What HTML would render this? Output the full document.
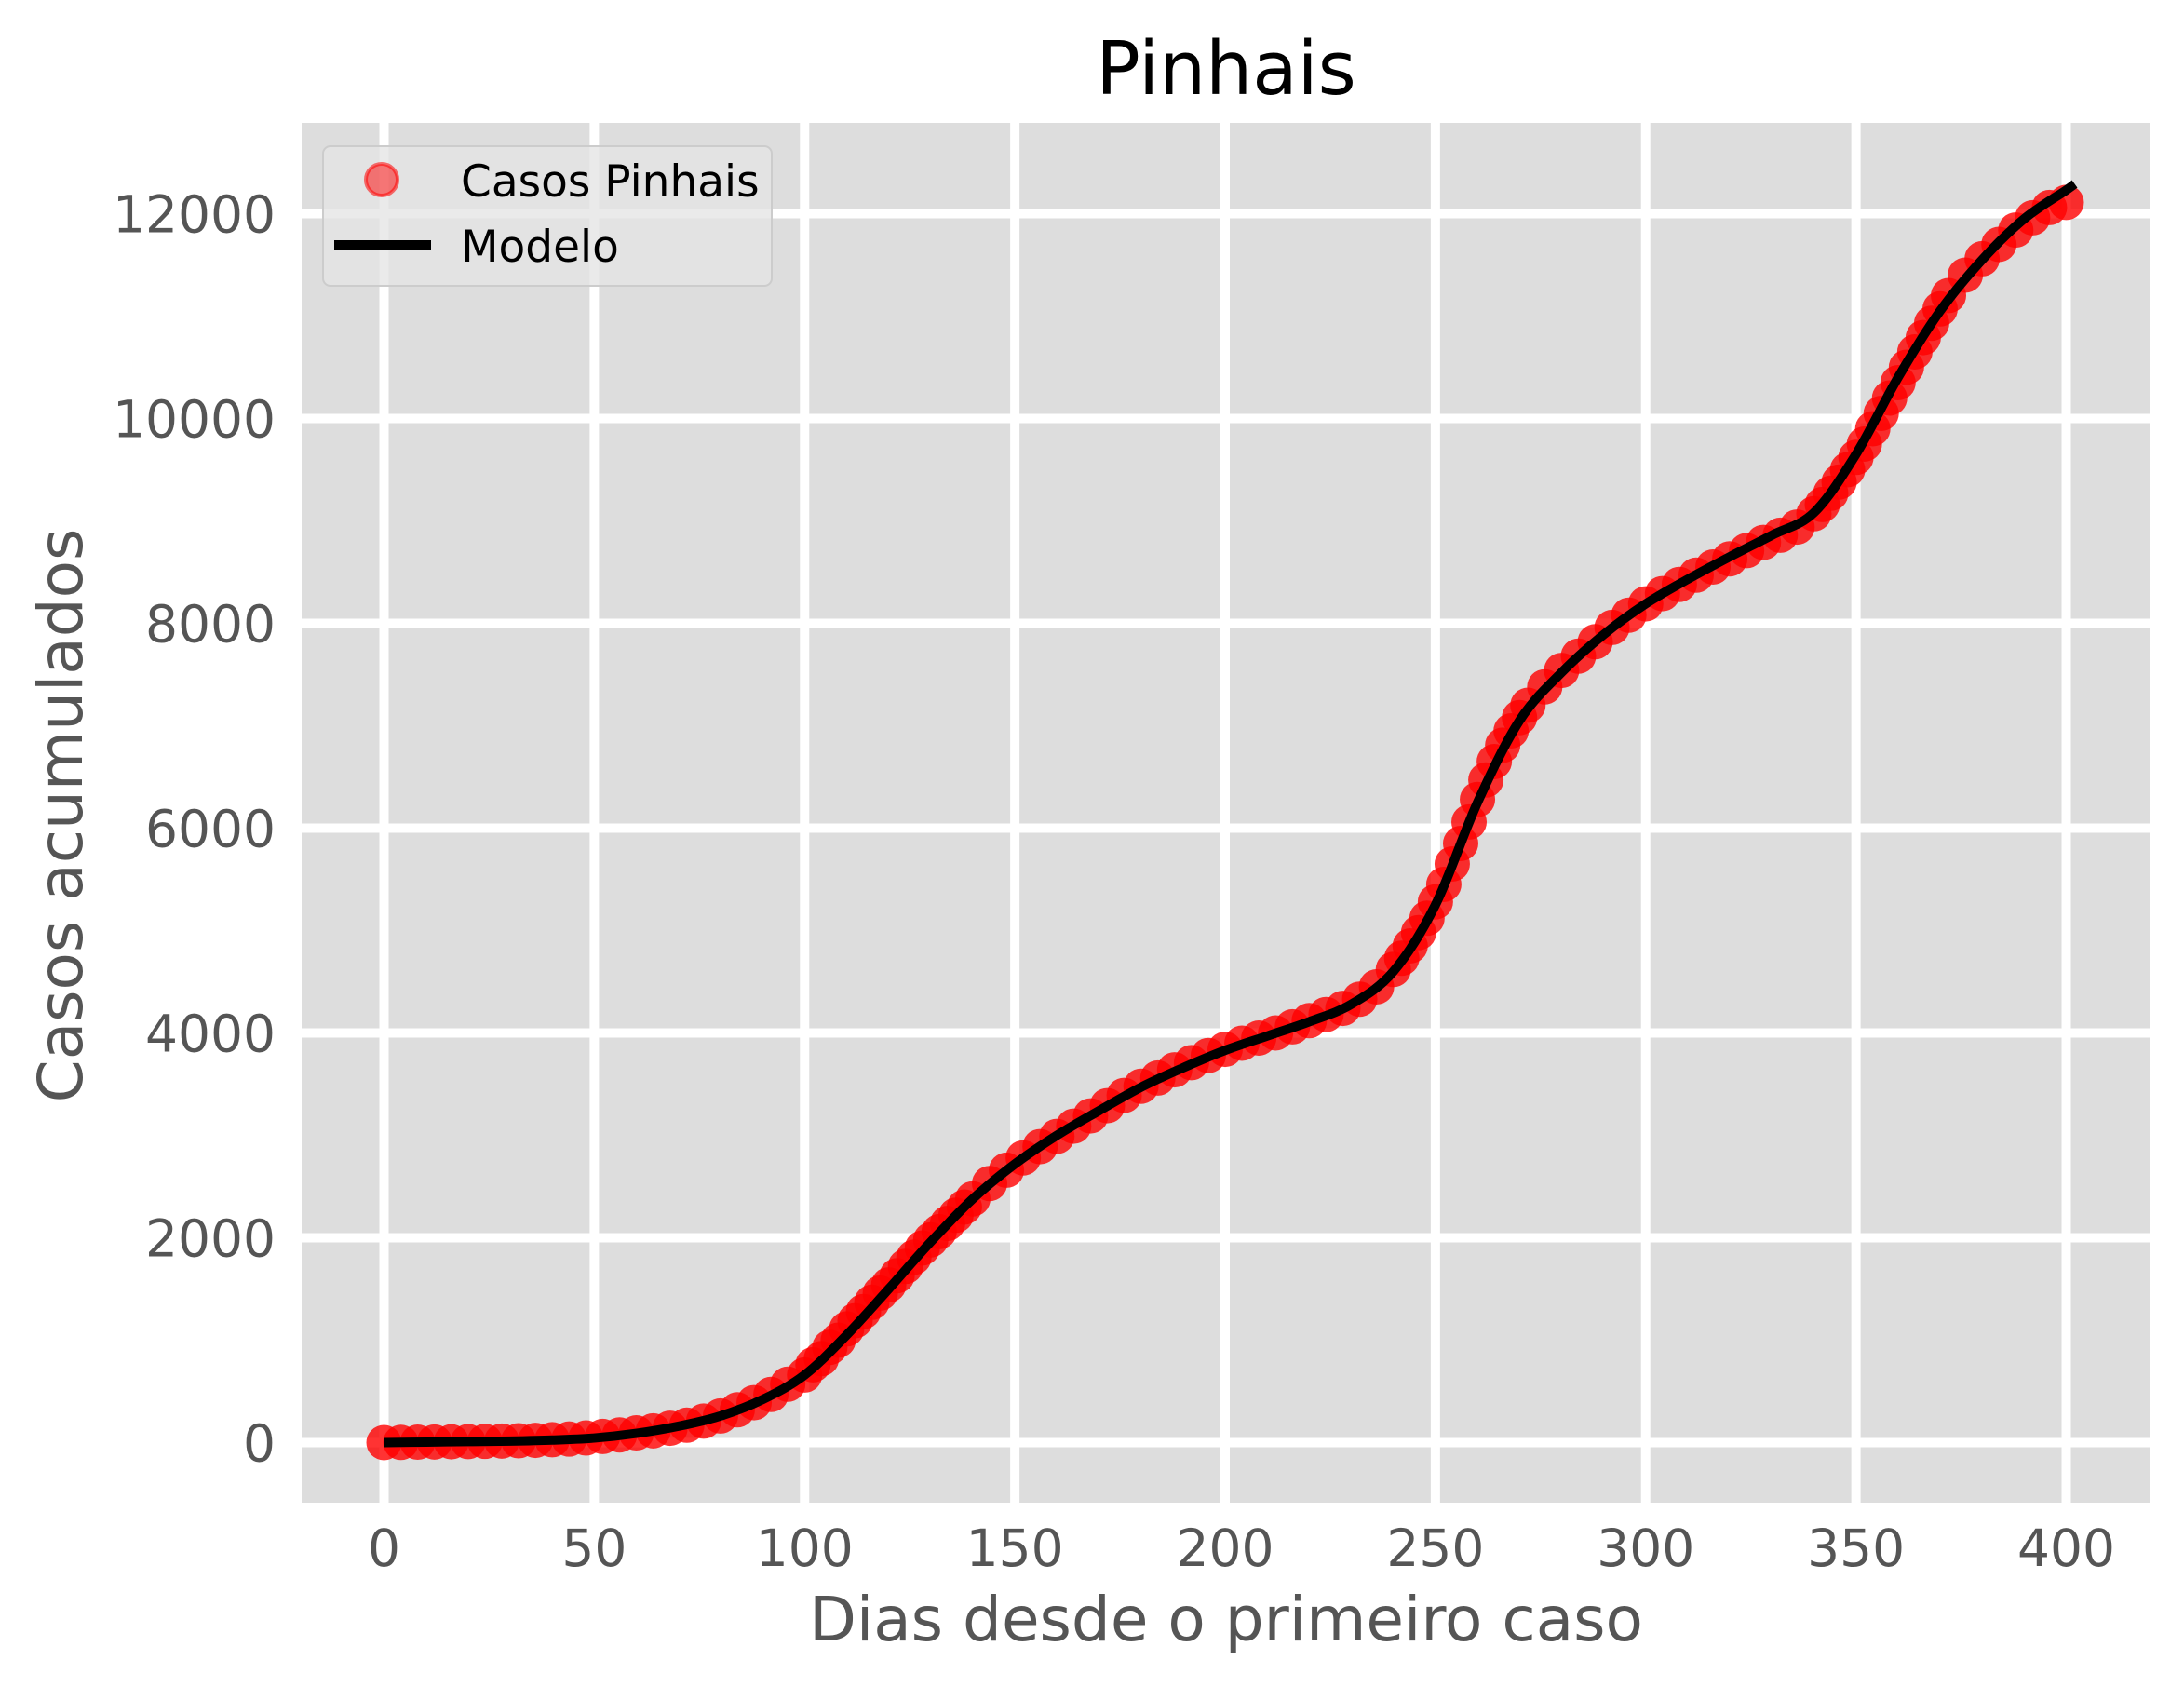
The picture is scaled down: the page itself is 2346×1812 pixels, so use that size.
<!DOCTYPE html>
<html><head><meta charset="utf-8"><style>
html,body{margin:0;padding:0;background:#fff;}
svg{display:block;font-family:"DejaVu Sans","Liberation Sans",sans-serif;}
</style></head><body>
<svg id="chart" width="2346" height="1812" viewBox="0 0 2346 1812" xmlns="http://www.w3.org/2000/svg">
<rect x="324" y="132" width="1986" height="1482" fill="#dddddd"/>
<g id="grid"></g>
<g id="points"></g>
<path id="model" fill="none" stroke="#000" stroke-width="10"/>
<g id="xticks"></g>
<g id="yticks"></g>
<text x="1317" y="101" text-anchor="middle" font-size="79" fill="#000">Pinhais</text>
<text x="1317" y="1762" text-anchor="middle" font-size="66" fill="#555">Dias desde o primeiro caso</text>
<text transform="translate(88,876) rotate(-90)" text-anchor="middle" font-size="66" fill="#555">Casos acumulados</text>
<g>
<rect x="347" y="157" width="482" height="150" rx="8" fill="#e5e5e5" fill-opacity="0.8" stroke="#cccccc" stroke-width="2"/>
<circle cx="410" cy="193" r="17" fill="#ff0000" fill-opacity="0.5" stroke="#ff0000" stroke-opacity="0.55" stroke-width="4"/>
<line x1="359" y1="263" x2="463" y2="263" stroke="#000" stroke-width="10"/>
<text x="495" y="211" font-size="47" fill="#000">Casos Pinhais</text>
<text x="495" y="281" font-size="47" fill="#000">Modelo</text>
</g>
</svg>
<script>
const days = [0,4,8,12,16,20,24,28,32,36,40,44,48,52,56,60,64,68,72,76,80,84,88,92,96,100,104,108,112,116,120,124,128,132,136,140,144,148,152,156,160,164,168,172,176,180,184,188,192,196,200,204,208,212,216,220,224,228,232,236,240,244,248,252,256,260,264,268,272,276,280,284,288,292,296,300,304,308,312,316,320,324,328,332,336,340,344,348,352,356,360,364,368,372,376,380,384,388,392,396,400,
102,106,110,114,118,122,126,130,134,138,242,246,250,254,258,262,266,270,342,346,350,354,358,362,366,370];
const cases = [0,2,4,6,8,10,12,15,18,22,28,35,45,60,75,95,115,140,170,210,260,320,390,470,570,660,820,1000,1190,1370,1540,1720,1900,2060,2220,2380,2530,2660,2780,2890,2990,3090,3190,3290,3390,3480,3560,3640,3710,3780,3840,3900,3950,4000,4060,4120,4180,4240,4330,4450,4620,4850,5120,5450,5850,6280,6650,6950,7200,7380,7540,7680,7820,7960,8080,8190,8290,8380,8470,8550,8630,8710,8790,8860,8940,9070,9270,9500,9750,10050,10350,10650,10930,11200,11400,11560,11700,11840,11960,12060,12110,
760,930,1110,1280,1460,1630,1810,1980,2140,2300,4730,4980,5280,5650,6060,6470,6810,7080,9160,9380,9620,9900,10200,10500,10790,11070];
const modelDays = [0,10,20,30,40,50,60,70,80,90,100,110,120,130,140,150,160,170,180,190,200,210,220,230,240,250,260,270,280,290,300,310,320,330,340,350,360,370,380,390,400,402];
const modelVals = [0,5,10,15,25,45,90,160,260,420,660,1050,1500,1960,2380,2720,3000,3240,3470,3660,3830,3970,4110,4280,4600,5250,6250,7050,7520,7890,8190,8430,8650,8860,9080,9650,10400,11050,11550,11950,12230,12290];
const xTicks = [0,50,100,150,200,250,300,350,400];
const yTicks = [0,2000,4000,6000,8000,10000,12000];

const NS = "http://www.w3.org/2000/svg";
const X = d => 412.5 + d * 4.5175;
const Y = v => 1549.5 - v * 0.11;

const grid = document.getElementById('grid');
xTicks.forEach(t => {
  const l = document.createElementNS(NS, 'line');
  l.setAttribute('x1', X(t)); l.setAttribute('x2', X(t));
  l.setAttribute('y1', 132); l.setAttribute('y2', 1614);
  l.setAttribute('stroke', '#fff'); l.setAttribute('stroke-width', 10);
  
  
  grid.appendChild(l);
  const tx = document.createElementNS(NS, 'text');
  tx.setAttribute('x', X(t)); tx.setAttribute('y', 1682);
  tx.setAttribute('text-anchor', 'middle'); tx.setAttribute('font-size', 55); tx.setAttribute('fill', '#555');
  tx.textContent = t;
  
  
  document.getElementById('xticks').appendChild(tx);
});
yTicks.forEach(t => {
  const l = document.createElementNS(NS, 'line');
  l.setAttribute('y1', Y(t)); l.setAttribute('y2', Y(t));
  l.setAttribute('x1', 324); l.setAttribute('x2', 2310);
  l.setAttribute('stroke', '#fff'); l.setAttribute('stroke-width', 10);
  
  
  grid.appendChild(l);
  const tx = document.createElementNS(NS, 'text');
  tx.setAttribute('x', 296); tx.setAttribute('y', Y(t) + 20);
  tx.setAttribute('text-anchor', 'end'); tx.setAttribute('font-size', 55); tx.setAttribute('fill', '#555');
  tx.textContent = t;
  
  
  document.getElementById('yticks').appendChild(tx);
});

const pts = document.getElementById('points');
days.forEach((d, i) => {
  const c = document.createElementNS(NS, 'circle');
  c.setAttribute('cx', X(d)); c.setAttribute('cy', Y(cases[i])); c.setAttribute('r', 19);
  c.setAttribute('fill', '#ff0000'); c.setAttribute('fill-opacity', 0.8);
  
  
  pts.appendChild(c);
});

const P = modelDays.map((d, i) => [X(d), Y(modelVals[i])]);
let dstr = `M${P[0][0]},${P[0][1]}`;
for (let i = 0; i < P.length - 1; i++) {
  const p0 = P[Math.max(0, i - 1)], p1 = P[i], p2 = P[i + 1], p3 = P[Math.min(P.length - 1, i + 2)];
  const c1 = [p1[0] + (p2[0] - p0[0]) / 6, p1[1] + (p2[1] - p0[1]) / 6];
  const c2 = [p2[0] - (p3[0] - p1[0]) / 6, p2[1] - (p3[1] - p1[1]) / 6];
  dstr += ` C${c1[0]},${c1[1]} ${c2[0]},${c2[1]} ${p2[0]},${p2[1]}`;
}
document.getElementById('model').setAttribute('d', dstr);
</script>
</body></html>
